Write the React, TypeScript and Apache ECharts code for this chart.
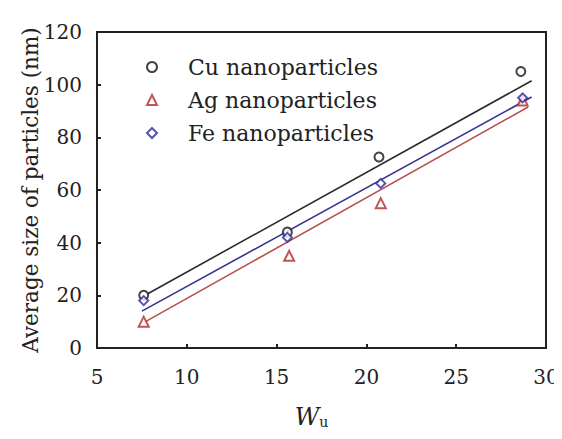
import React, { useEffect, useRef } from "react";
import * as echarts from "echarts";

// Measured particle sizes (nm) against W_u
const cuPoints: [number, number][] = [
  [7.6, 20],
  [15.6, 44],
  [20.7, 72.5],
  [28.6, 105],
];
const agPoints: [number, number][] = [
  [7.6, 10],
  [15.7, 35],
  [20.8, 55],
  [28.7, 94],
];
const fePoints: [number, number][] = [
  [7.6, 18],
  [15.6, 42],
  [20.8, 62.5],
  [28.7, 95],
];

// Linear fit lines (end points)
const cuFit: [number, number][] = [
  [7.8, 20.5],
  [29.2, 101.5],
];
const feFit: [number, number][] = [
  [7.5, 14],
  [29.2, 95.3],
];
const agFit: [number, number][] = [
  [7.7, 10],
  [29.0, 91.5],
];

const seriesNames = ["Cu nanoparticles", "Ag nanoparticles", "Fe nanoparticles"];

const FONT = "DejaVu Serif";
const INK = "#222";
const CU = "#151515";
const AG = "#b02a2a";
const FE = "#2a2a9a";

export default function App() {
  const ref = useRef<HTMLDivElement>(null);

  useEffect(() => {
    if (!ref.current) return;
    const chart = echarts.init(ref.current, null, { renderer: "svg" });
    chart.setOption({
      animation: false,
      backgroundColor: "#fff",
      textStyle: { fontFamily: FONT },
      grid: {
        left: 97,
        right: 16,
        top: 32,
        bottom: 91,
        outerBoundsMode: "none",
        show: true,
        borderColor: INK,
        borderWidth: 2,
      },
      legend: {
        data: seriesNames,
        orient: "vertical",
        left: 141,
        top: 51,
        itemGap: 11,
        itemWidth: 10,
        itemHeight: 10,
        textStyle: {
          fontFamily: FONT,
          fontSize: 22,
          color: INK,
          padding: [0, 0, 0, 26],
        },
      },
      xAxis: {
        type: "value",
        min: 5,
        max: 30,
        interval: 5,
        name: "{w|W}{s|u}",
        nameLocation: "middle",
        nameGap: 57,
        nameMoveOverlap: false,
        nameTextStyle: {
          padding: [0, 20, 0, 0],
          rich: {
            w: { fontFamily: FONT, fontSize: 24, fontStyle: "italic", color: INK },
            s: {
              fontFamily: FONT,
              fontSize: 14,
              color: INK,
              verticalAlign: "bottom",
              padding: [8, 0, 0, 0],
            },
          },
        },
        axisLine: { lineStyle: { color: INK, width: 2 } },
        axisTick: { inside: true, length: 4, lineStyle: { color: INK, width: 2 } },
        axisLabel: { fontFamily: FONT, fontSize: 20, color: INK, margin: 19 },
        splitLine: { show: false },
      },
      yAxis: {
        type: "value",
        min: 0,
        max: 120,
        interval: 20,
        name: "Average size of particles (nm)",
        nameLocation: "middle",
        nameGap: 56,
        nameMoveOverlap: false,
        nameTextStyle: { fontFamily: FONT, fontSize: 21.5, color: INK },
        axisLine: { lineStyle: { color: INK, width: 2 } },
        axisTick: { inside: true, length: 4, lineStyle: { color: INK, width: 2 } },
        axisLabel: { fontFamily: FONT, fontSize: 20, color: INK, margin: 15 },
        splitLine: { show: false },
      },
      series: [
        {
          name: "Cu fit",
          type: "line",
          data: cuFit,
          symbol: "none",
          lineStyle: { color: "#2a2a2a", width: 1.6 },
          z: 1,
        },
        {
          name: "Fe fit",
          type: "line",
          data: feFit,
          symbol: "none",
          lineStyle: { color: "#34348f", width: 1.6 },
          z: 1,
        },
        {
          name: "Ag fit",
          type: "line",
          data: agFit,
          symbol: "none",
          lineStyle: { color: "#b85050", width: 1.6 },
          z: 1,
        },
        {
          name: seriesNames[0],
          type: "scatter",
          data: cuPoints,
          symbol: "emptyCircle",
          symbolSize: 9,
          itemStyle: { color: CU, borderWidth: 2.5 },
          z: 3,
        },
        {
          name: seriesNames[1],
          type: "scatter",
          data: agPoints,
          symbol: "emptyTriangle",
          symbolSize: 10,
          itemStyle: { color: AG, borderWidth: 2 },
          z: 3,
        },
        {
          name: seriesNames[2],
          type: "scatter",
          data: fePoints,
          symbol: "emptyDiamond",
          symbolSize: 9,
          itemStyle: { color: FE, borderWidth: 2 },
          z: 3,
        },
      ],
    });
    return () => chart.dispose();
  }, []);

  return <div ref={ref} style={{ width: 562, height: 439, margin: -8 }} />;
}
